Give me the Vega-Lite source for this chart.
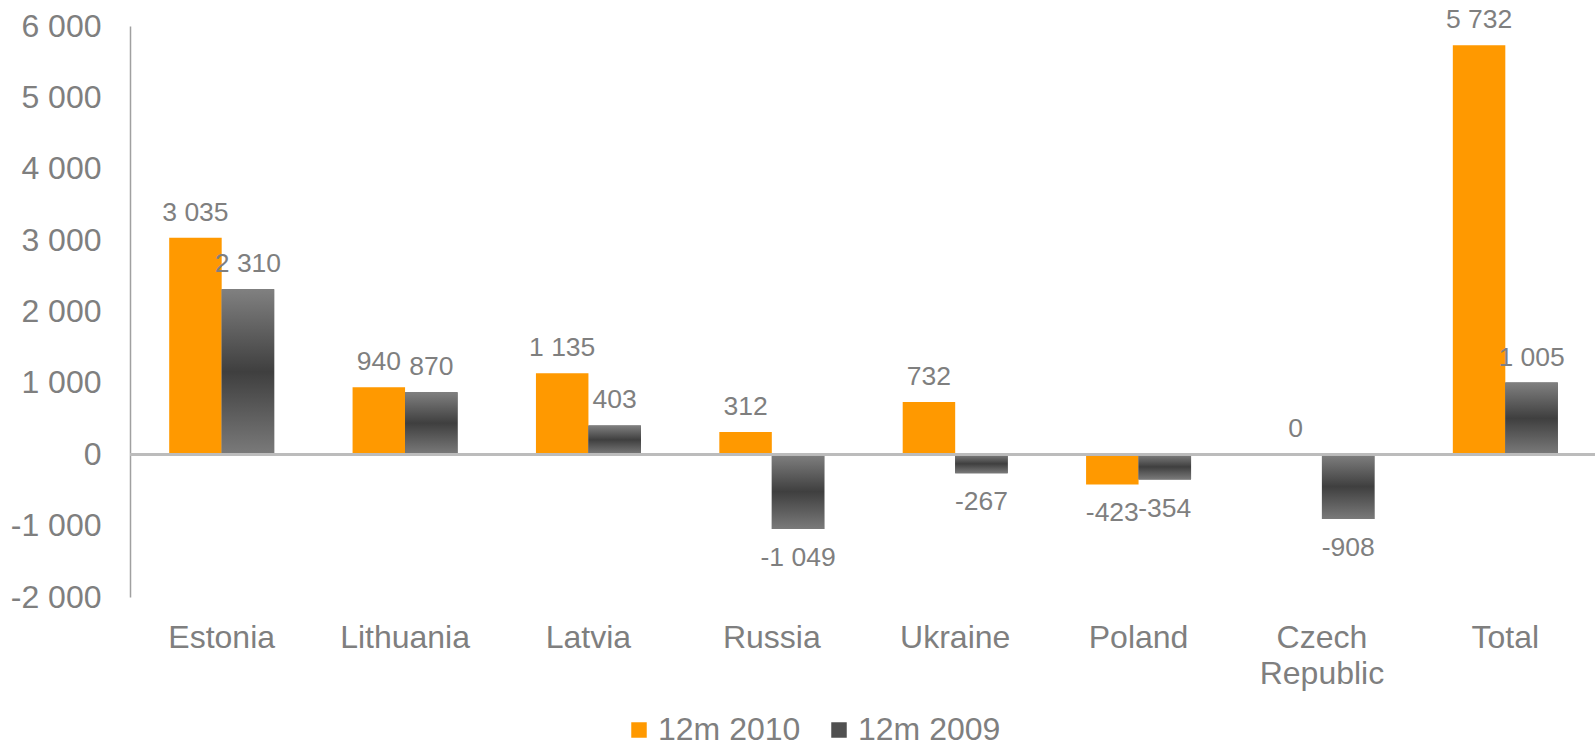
{
  "$schema": "https://vega.github.io/schema/vega-lite/v6.json",
  "autosize": {"type": "none"},
  "padding": {"left": 130, "top": 26, "right": 0, "bottom": 151},
  "width": 1467,
  "height": 571,
  "background": "white",
  "config": {
    "view": {"stroke": null},
    "font": "Liberation Sans",
    "locale": {"number": {"decimal": ".", "thousands": " ", "grouping": [3], "currency": ["", ""], "minus": "-"}}
  },
  "data": {
    "values": [
      {"country": "Estonia", "series": "12m 2010", "value": 3035},
      {"country": "Estonia", "series": "12m 2009", "value": 2310},
      {"country": "Lithuania", "series": "12m 2010", "value": 940},
      {"country": "Lithuania", "series": "12m 2009", "value": 870},
      {"country": "Latvia", "series": "12m 2010", "value": 1135},
      {"country": "Latvia", "series": "12m 2009", "value": 403},
      {"country": "Russia", "series": "12m 2010", "value": 312},
      {"country": "Russia", "series": "12m 2009", "value": -1049},
      {"country": "Ukraine", "series": "12m 2010", "value": 732},
      {"country": "Ukraine", "series": "12m 2009", "value": -267},
      {"country": "Poland", "series": "12m 2010", "value": -423},
      {"country": "Poland", "series": "12m 2009", "value": -354},
      {"country": "Czech Republic", "series": "12m 2010", "value": 0},
      {"country": "Czech Republic", "series": "12m 2009", "value": -908},
      {"country": "Total", "series": "12m 2010", "value": 5732},
      {"country": "Total", "series": "12m 2009", "value": 1005}
    ]
  },
  "encoding": {
    "x": {
      "field": "country", "type": "nominal", "sort": null,
      "scale": {"paddingInner": 0.4275, "paddingOuter": 0.21375},
      "axis": {
        "title": null, "domain": false, "ticks": false, "labelAngle": 0,
        "labelFontSize": 32, "labelColor": "#7f7f7f", "labelPadding": 25,
        "labelBaseline": "top", "labelLineHeight": 36,
        "labelExpr": "datum.label == 'Czech Republic' ? ['Czech', 'Republic'] : datum.label"
      }
    },
    "xOffset": {"field": "series", "type": "nominal", "scale": {"domain": ["12m 2010", "12m 2009"], "paddingInner": 0, "paddingOuter": 0}},
    "y": {
      "field": "value", "type": "quantitative",
      "scale": {"domain": [-2000, 6000], "nice": false},
      "axis": {
        "title": null, "values": [-2000, -1000, 0, 1000, 2000, 3000, 4000, 5000, 6000],
        "format": ",d", "grid": false, "ticks": false, "domain": true,
        "domainColor": "#a0a0a0", "domainWidth": 1.5,
        "labelFontSize": 32, "labelColor": "#7f7f7f", "labelPadding": 29
      }
    }
  },
  "layer": [
    {
      "mark": {"type": "bar"},
      "encoding": {
        "color": {
          "field": "series", "type": "nominal",
          "scale": {"domain": ["12m 2010", "12m 2009"], "range": ["#FF9900", "#505050"]},
          "legend": {
            "title": null, "orient": "none", "direction": "horizontal",
            "legendX": 493, "legendY": 688,
            "symbolType": "square", "symbolSize": 240, "symbolStrokeWidth": 0,
            "labelFontSize": 32, "labelColor": "#7f7f7f", "labelOffset": 3,
            "columnPadding": 22
          }
        }
      }
    },
    {
      "transform": [{"filter": "datum.series === '12m 2009'"}],
      "mark": {
        "type": "bar",
        "color": {"gradient": "linear", "x1": 0, "y1": 0, "x2": 0, "y2": 1, "stops": [{"offset": 0, "color": "#808080"}, {"offset": 0.5, "color": "#3f3f3f"}, {"offset": 1, "color": "#7a7a7a"}]}
      },
      "encoding": {}
    },
    {
      "mark": {"type": "rule", "color": "#bcbcbc", "strokeWidth": 2},
      "encoding": {"y": {"datum": 0}, "x": null, "xOffset": null}
    },
    {
      "transform": [{"filter": "datum.value >= 0"}],
      "mark": {"type": "text", "fontSize": 26.5, "color": "#7f7f7f", "baseline": "alphabetic", "dy": -17},
      "encoding": {"text": {"field": "value", "type": "quantitative", "format": ",d"}}
    },
    {
      "transform": [{"filter": "datum.value < 0"}],
      "mark": {"type": "text", "fontSize": 26.5, "color": "#7f7f7f", "baseline": "alphabetic", "dy": 37},
      "encoding": {"text": {"field": "value", "type": "quantitative", "format": ",d"}}
    }
  ]
}
